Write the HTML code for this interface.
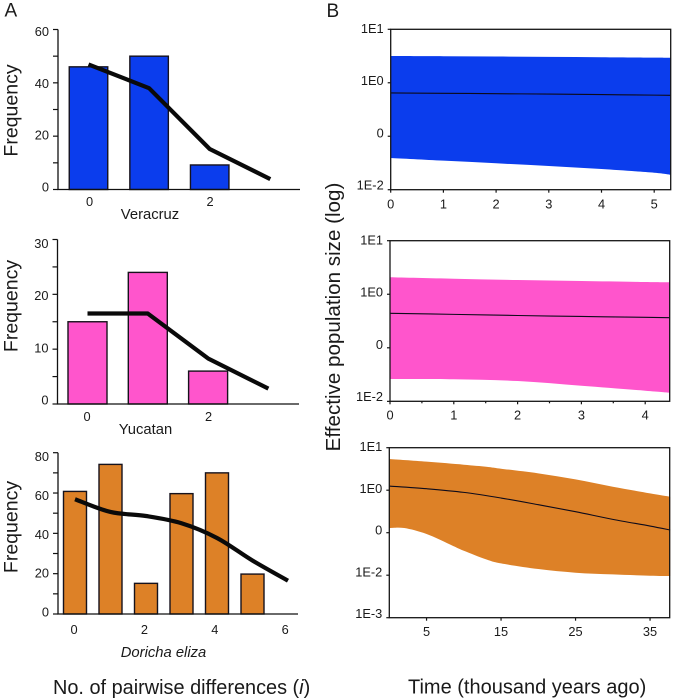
<!DOCTYPE html>
<html lang="en">
<head>
<meta charset="utf-8">
<title>Mismatch distributions and skyline plots</title>
<style>
html,body{margin:0;padding:0;background:#fff;}
svg{display:block;}
text{font-family:"Liberation Sans",Arial,sans-serif;fill:#1a1a1a;}
</style>
</head>
<body>
<svg id="figure" xmlns="http://www.w3.org/2000/svg" width="673" height="700" viewBox="0 0 673 700">
  <text x="4.500" y="16.500" font-size="19">A</text>
  <text x="326.500" y="17" font-size="19">B</text>
  <text transform="translate(17.500,110.500) rotate(-90)" text-anchor="middle" font-size="19.500">Frequency</text>
  <text transform="translate(17.500,306) rotate(-90)" text-anchor="middle" font-size="19.500">Frequency</text>
  <text transform="translate(17.500,527) rotate(-90)" text-anchor="middle" font-size="19.500">Frequency</text>
  <text x="150" y="219" text-anchor="middle" font-size="14.800">Veracruz</text>
  <text x="145.500" y="434" text-anchor="middle" font-size="14.800">Yucatan</text>
  <text x="163.500" y="657" text-anchor="middle" font-size="14.800" font-style="italic">Doricha eliza</text>
  <text x="53" y="694" font-size="19.900">No. of pairwise differences (<tspan font-style="italic">i</tspan>)</text>
  <text transform="translate(340,317) rotate(-90)" text-anchor="middle" font-size="20.600">Effective population size (log)</text>
  <text x="408" y="693.500" font-size="20">Time (thousand years ago)</text>
</svg>
<script>
// Panel A: observed bars and expected line
const veracruzCategories = [0, 1, 2];
const veracruzObserved = [46, 50, 9.2];
const veracruzExpected = [46.9, 38, 15.2, 3.9];
const veracruzYTicks = [60, 40, 20, 0];
const veracruzXTicks = [0, 2];

const yucatanCategories = [0, 1, 2];
const yucatanObserved = [15, 24, 6];
const yucatanExpected = [16.5, 16.5, 8.3, 2.8];
const yucatanYTicks = [30, 20, 10, 0];
const yucatanXTicks = [0, 2];

const dorichaCategories = [0, 1, 2, 3, 4, 5];
const dorichaObserved = [60.8, 74.2, 15.2, 59.7, 70, 19.8];
const dorichaExpected = [56.9, 50.6, 48.6, 45, 37.7, 26.5, 16.5];
const dorichaYTicks = [80, 60, 40, 20, 0];
const dorichaXTicks = [0, 2, 4, 6];

// Panel B: skyline plots, values are log10 of effective size
const skyYTickValues = [1, 0, -1, -2];
const skyYTickLabels = ['1E1', '1E0', '0', '1E-2'];

const blueTime = [0, 1, 2, 3, 4, 5, 5.31];
const blueUpper = [0.50, 0.497, 0.491, 0.485, 0.478, 0.47, 0.468];
const blueMedian = [-0.191, -0.197, -0.204, -0.212, -0.221, -0.231, -0.234];
const blueLower = [-1.407, -1.457, -1.506, -1.557, -1.613, -1.682, -1.72];
const blueXTicks = [0, 1, 2, 3, 4, 5];

const pinkTime = [0, 1, 2, 3, 4, 4.38];
const pinkUpper = [0.317, 0.29, 0.266, 0.247, 0.229, 0.223];
const pinkMedian = [-0.356, -0.376, -0.397, -0.415, -0.43, -0.438];
const pinkLower = [-1.583, -1.588, -1.62, -1.708, -1.801, -1.838];
const pinkXTicks = [0, 1, 2, 3, 4];
const pinkXMinorTicks = [0.5, 1.5, 2.5, 3.5];

const orangeUpperTime = [0, 5, 10, 13, 15, 20, 25, 30, 35, 37.7];
const orangeUpper = [0.733, 0.671, 0.6, 0.553, 0.506, 0.396, 0.255, 0.082, -0.075, -0.153];
const orangeMedianTime = [0, 5, 10, 15, 20, 25, 30, 35, 37.7];
const orangeMedian = [0.098, 0.035, -0.051, -0.184, -0.341, -0.506, -0.686, -0.843, -0.937];
const orangeLowerTime = [0, 2, 5, 8.5, 10, 13, 15, 20, 25, 30, 35, 37.7];
const orangeLower = [-0.89, -0.89, -1.031, -1.306, -1.424, -1.627, -1.722, -1.855, -1.941, -1.98, -2.012, -2.02];
const orangeYTickValues = [1, 0, -1, -2, -3];
const orangeYTickLabels = ['1E1', '1E0', '0', '1E-2', '1E-3'];
const orangeXTicks = [5, 15, 25, 35];

const NS = 'http://www.w3.org/2000/svg';
const figure = document.getElementById('figure');

function make(tag, attrs, parent) {
  const el = document.createElementNS(NS, tag);
  for (const k in attrs) el.setAttribute(k, attrs[k]);
  (parent || figure).appendChild(el);
  return el;
}

function smoothPath(pts) {
  let d = 'M' + pts[0][0].toFixed(2) + ' ' + pts[0][1].toFixed(2);
  for (let i = 0; i < pts.length - 1; i++) {
    const p0 = pts[Math.max(i - 1, 0)], p1 = pts[i], p2 = pts[i + 1], p3 = pts[Math.min(i + 2, pts.length - 1)];
    const c1x = p1[0] + (p2[0] - p0[0]) / 6, c1y = p1[1] + (p2[1] - p0[1]) / 6;
    const c2x = p2[0] - (p3[0] - p1[0]) / 6, c2y = p2[1] - (p3[1] - p1[1]) / 6;
    d += 'C' + c1x.toFixed(2) + ' ' + c1y.toFixed(2) + ' ' + c2x.toFixed(2) + ' ' + c2y.toFixed(2) + ' ' + p2[0].toFixed(2) + ' ' + p2[1].toFixed(2);
  }
  return d;
}

function drawHistogram(id, g, categories, observed, expected, yTicks, xTicks) {
  const group = make('g', {});
  
  
  const x = function (i) { return g.x0 + i * g.step; };
  const y = function (v) { return g.base - v * (g.base - g.top) / g.yMax; };
  const labelY = function (v) { return g.labelBase - v * (g.labelBase - g.labelTop) / g.yMax; };

  categories.forEach(function (c, i) {
    const bar = make('rect', {
      x: x(c) - g.barW / 2, y: y(observed[i]), width: g.barW, height: g.base - y(observed[i]),
      fill: g.color, stroke: '#16121c', 'stroke-width': 1.4
    }, group);
    
    
  });

  const axis = make('path', {
    d: 'M' + g.axisX + ' ' + g.top + 'V' + g.base + 'H' + g.axisEnd, fill: 'none', stroke: '#111', 'stroke-width': 1.3
  }, group);
  
  

  const tickStep = yTicks[0] - yTicks[1];
  for (let v = 0; v <= g.yMax + 0.001; v += tickStep / 2) {
    const tick = make('line', { x1: g.axisX - 5, x2: g.axisX, y1: y(v), y2: y(v), stroke: '#111', 'stroke-width': 1.2 }, group);
    
    
  }

  yTicks.forEach(function (v) {
    const t = make('text', { x: g.axisX - 9, y: labelY(v) + 4.5, 'text-anchor': 'end', 'font-size': 12.8 }, group);
    t.textContent = v;
    
    
  });

  xTicks.forEach(function (v) {
    const t = make('text', { x: g.labelX0 + v * g.labelStep, y: g.xLabelY, 'text-anchor': 'middle', 'font-size': 12.8 }, group);
    t.textContent = v;
    
    
  });

  const pts = expected.map(function (v, i) { return [x(i) + g.lineShift, y(v)]; });
  const curve = make('path', {
    d: g.smooth ? smoothPath(pts) : 'M' + pts.map(function (p) { return p[0].toFixed(2) + ' ' + p[1].toFixed(2); }).join('L'),
    fill: 'none', stroke: '#0a0a0a', 'stroke-width': 4.2, 'stroke-linejoin': 'round'
  }, group);
  
  
}

function drawSkyline(id, g, upperT, upper, medianT, median, lowerT, lower, yVals, yLabels, xTicks, minorTicks) {
  const group = make('g', {});
  
  
  const x = function (t) { return g.left + (t - g.tMin) * g.tScale; };
  const y = function (v) { return g.top + (g.logMax - v) * g.decade; };

  const upperPts = upperT.map(function (t, i) { return [x(t), y(upper[i])]; });
  const lowerPts = lowerT.map(function (t, i) { return [x(t), y(lower[i])]; });
  const medianPts = medianT.map(function (t, i) { return [x(t), y(median[i])]; });

  const lowerBack = lowerPts.slice().reverse();
  const band = make('path', {
    d: smoothPath(upperPts) + 'L' + lowerBack[0][0].toFixed(2) + ' ' + lowerBack[0][1].toFixed(2) + smoothPath(lowerBack).replace(/^M[^C]*/, '') + 'Z',
    fill: g.color, stroke: 'none'
  }, group);
  
  

  const line = make('path', { d: smoothPath(medianPts), fill: 'none', stroke: '#0d0a1a', 'stroke-width': 1.1 }, group);
  
  

  const frame = make('rect', {
    x: g.left, y: g.top, width: g.right - g.left, height: g.bottom - g.top, fill: 'none', stroke: '#151515', 'stroke-width': 1.3
  }, group);
  
  

  yVals.forEach(function (v, i) {
    const tick = make('line', { x1: g.left - 3, x2: g.left, y1: y(v), y2: y(v), stroke: '#151515', 'stroke-width': 1.2 }, group);
    
    
    const t = make('text', {
      x: g.left - 7, y: y(v) + g.yLabelShift + (v - g.logMin) / (g.logMax - g.logMin) * g.yLabelSpread,
      'text-anchor': 'end', 'font-size': 12.8
    }, group);
    t.textContent = yLabels[i];
    
    
  });

  xTicks.forEach(function (v) {
    const tick = make('line', { x1: x(v), x2: x(v), y1: g.bottom, y2: g.bottom + 3, stroke: '#151515', 'stroke-width': 1.2 }, group);
    
    
    const t = make('text', { x: x(v), y: g.xLabelY, 'text-anchor': 'middle', 'font-size': 12.8 }, group);
    t.textContent = v;
    
    
  });

  minorTicks.forEach(function (v) {
    const tick = make('line', { x1: x(v), x2: x(v), y1: g.bottom, y2: g.bottom + 2, stroke: '#151515', 'stroke-width': 1.2 }, group);
    
    
  });
}

drawHistogram('veracruz',
  { x0: 88.5, step: 60.6, barW: 38.5, lineShift: 0, axisX: 58, axisEnd: 300, top: 29.5, base: 189.5, yMax: 60,
    color: '#0b3ded', labelTop: 31.7, labelBase: 187, labelX0: 89.5, labelStep: 60.3, xLabelY: 206, smooth: false },
  veracruzCategories, veracruzObserved, veracruzExpected, veracruzYTicks, veracruzXTicks);

drawHistogram('yucatan',
  { x0: 87.5, step: 60.3, barW: 39, lineShift: 0, axisX: 57.5, axisEnd: 299, top: 239.5, base: 404, yMax: 30,
    color: '#ff55cc', labelTop: 243.3, labelBase: 400, labelX0: 87, labelStep: 60.8, xLabelY: 421, smooth: false },
  yucatanCategories, yucatanObserved, yucatanExpected, yucatanYTicks, yucatanXTicks);

drawHistogram('doricha',
  { x0: 75, step: 35.5, barW: 23, lineShift: 0, axisX: 58, axisEnd: 298, top: 452.7, base: 614, yMax: 80,
    color: '#dd8127', labelTop: 456.7, labelBase: 612, labelX0: 74, labelStep: 35.2, xLabelY: 634, smooth: true },
  dorichaCategories, dorichaObserved, dorichaExpected, dorichaYTicks, dorichaXTicks);

drawSkyline('blue',
  { left: 390.7, right: 670.7, top: 29.3, bottom: 189.7, tMin: 0, tScale: 52.7, logMax: 1, logMin: -2, decade: 53.47,
    color: '#0b3ded', xLabelY: 208.5, yLabelShift: -0.2, yLabelSpread: 3.8 },
  blueTime, blueUpper, blueTime, blueMedian, blueTime, blueLower,
  skyYTickValues, skyYTickLabels, blueXTicks, []);

drawSkyline('pink',
  { left: 390, right: 669.7, top: 240.7, bottom: 401.3, tMin: 0, tScale: 63.8, logMax: 1, logMin: -2, decade: 53.55,
    color: '#ff55cc', xLabelY: 419.5, yLabelShift: -0.2, yLabelSpread: 3.8 },
  pinkTime, pinkUpper, pinkTime, pinkMedian, pinkTime, pinkLower,
  skyYTickValues, skyYTickLabels, pinkXTicks, pinkXMinorTicks);

drawSkyline('orange',
  { left: 389.3, right: 669.7, top: 447.7, bottom: 617.7, tMin: 0, tScale: 7.45, logMax: 1, logMin: -3, decade: 42.5,
    color: '#dd8127', xLabelY: 636, yLabelShift: 0.5, yLabelSpread: 3 },
  orangeUpperTime, orangeUpper, orangeMedianTime, orangeMedian, orangeLowerTime, orangeLower,
  orangeYTickValues, orangeYTickLabels, orangeXTicks, []);
</script>
</body>
</html>
